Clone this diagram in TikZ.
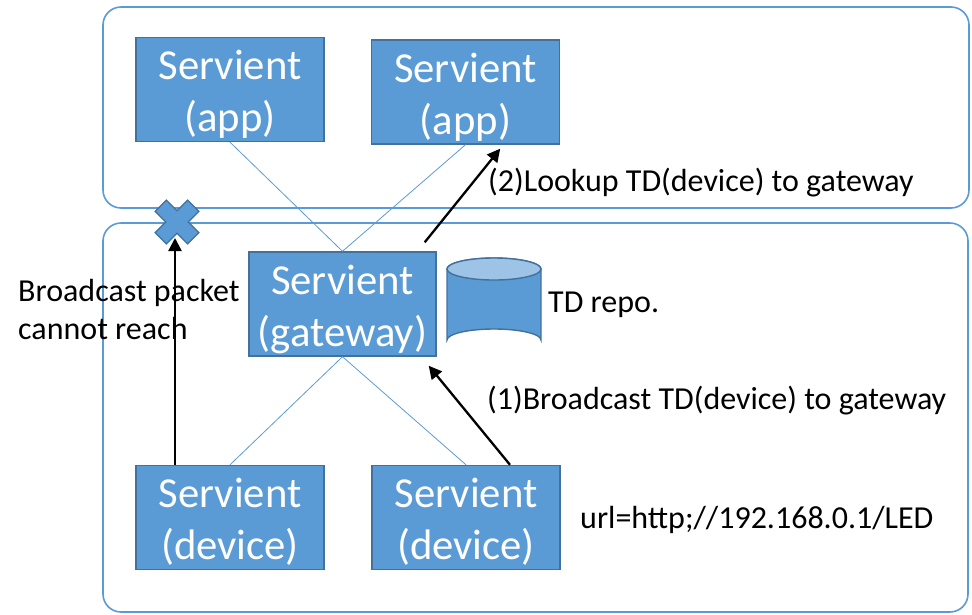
\documentclass[tikz,border=0pt]{standalone}
\usepackage{fontspec}
\setmainfont{Carlito}
\usetikzlibrary{arrows.meta}
\definecolor{boxfill}{HTML}{5B9BD5}
\definecolor{boxline}{HTML}{41719C}
\definecolor{lidfill}{HTML}{9DC3E6}
% two centred lines, set a little below the middle of the box
\newcommand{\twolines}[2]{\raisebox{-6pt}[\height][\depth]{\begin{tabular}{@{}c@{}}#1\\#2\end{tabular}}}
\tikzset{
  zone/.style={draw=boxfill, line width=1.6pt, rounded corners=18pt},
  servient/.style={draw=boxline, line width=1.4pt, fill=boxfill, text=white,
    minimum width=188pt, minimum height=103pt, inner sep=0pt,
    font=\fontsize{42.7}{52}\selectfont},
  link/.style={draw=boxfill, line width=0.8pt},
  flow/.style={draw=black, line width=2.3pt, -{Triangle[length=13pt,width=13pt]}},
  note/.style={inner sep=0pt, font=\fontsize{32}{38}\selectfont, align=left}
}
\begin{document}
\begin{tikzpicture}[x=1pt, y=-1pt]
  \useasboundingbox (0,0) rectangle (972,614);
  % network zones
  \draw[zone] (103,7) rectangle (969,208);
  \draw[zone] (103,223) rectangle (968,612);

  % servients
  \node[servient] (app1) at (230,89.5) {\twolines{Servient}{(app)}};
  \node[servient] (app2) at (465.5,92) {\twolines{Servient}{(app)}};
  \node[servient, minimum height=102pt, minimum width=187pt] (gw) at (342.5,304) {\twolines{Servient}{(gateway)}};
  \node[servient] (dev1) at (230,517.5) {\twolines{Servient}{(device)}};
  \node[servient] (dev2) at (466,517.5) {\twolines{Servient}{(device)}};

  % network links
  \draw[link] (app1.south) -- (gw.north);
  \draw[link] (app2.south) -- (gw.north);
  \draw[link] (dev1.north) -- (gw.south);
  \draw[link] (dev2.north) -- (gw.south);

  % TD repository drum
  \draw[draw=boxline, line width=1.4pt, fill=boxfill]
    (447,269) -- (447,340) arc[start angle=180, end angle=360, x radius=47, y radius=11]
    -- (541,269) arc[start angle=0, end angle=-180, x radius=47, y radius=11] -- cycle;
  \draw[draw=boxline, line width=1.4pt, fill=lidfill]
    (494,269) ellipse[x radius=47, y radius=11];
  \node[note, anchor=west] (repo) at (548,305) {TD repo.};

  % blocked broadcast mark
  \coordinate (block) at (177,222);
  \begin{scope}[shift={(block)}, rotate=45]
    \draw[draw=boxline, line width=1.2pt, fill=boxfill]
      (-8,-23) -- (8,-23) -- (8,-8) -- (23,-8) -- (23,8) -- (8,8) -- (8,23)
      -- (-8,23) -- (-8,8) -- (-23,8) -- (-23,-8) -- (-8,-8) -- cycle;
  \end{scope}

  % message flows
  \coordinate (stop) at (175,238);
  \draw[flow] ([xshift=-55pt]dev1.north) -- (stop);
  \draw[flow] ([xshift=44pt]dev2.north) -- ([shift={(-8pt,-9pt)}]gw.south east);
  \draw[flow] ([shift={(-12pt,9pt)}]gw.north east) -- ([shift={(-60pt,-4pt)}]app2.south east);

  % labels
  \node[note, anchor=west] (lookup) at (488,183) {(2)Lookup TD(device) to gateway};
  \node[note, anchor=west] (bcast) at (487,401) {(1)Broadcast TD(device) to gateway};
  \node[note, anchor=west] (url) at (580,520) {url=http;//192.168.0.1/LED};
  \node[note, anchor=north west] (lost) at (18,279) {Broadcast packet\\cannot reach};
\end{tikzpicture}
\end{document}
